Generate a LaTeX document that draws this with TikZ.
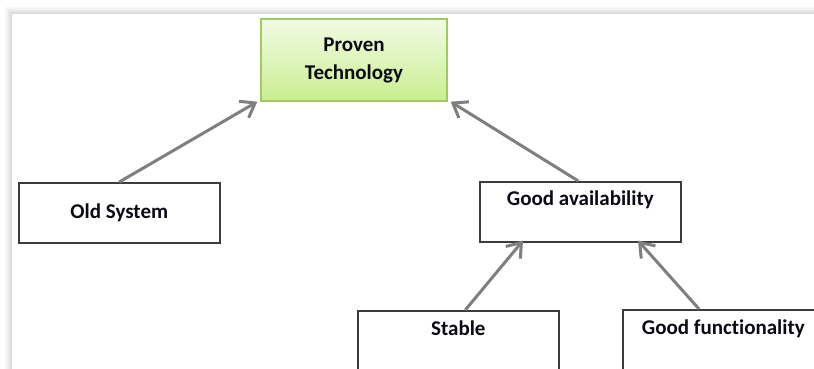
\documentclass[tikz,border=0pt]{standalone}
\usepackage{fontspec}
\setmainfont{Carlito}[Ligatures=NoCommon]
\usetikzlibrary{arrows.meta,calc}
\definecolor{arrowgray}{HTML}{7F7F7F}
\definecolor{boxline}{HTML}{3C3C3C}
\definecolor{greentop}{HTML}{F2FBE4}
\definecolor{greenbot}{HTML}{C9EE90}
\definecolor{greenline}{HTML}{9FCB60}
\definecolor{textcol}{HTML}{0A0A14}
\tikzset{
  box/.style={draw=boxline, line width=1.6pt, fill=white, inner sep=0pt, text=textcol,
    minimum width=201pt, font=\fontsize{21}{24}\selectfont\bfseries},
  greenbox/.style={draw=greenline, line width=1.4pt, top color=greentop, bottom color=greenbot,
    inner sep=0pt, minimum width=186pt, minimum height=82pt, align=center, text=textcol,
    font=\fontsize{21}{28}\selectfont\bfseries},
  link/.style={draw=arrowgray, line width=3pt, -{Straight Barb[length=13pt,width=19pt,line width=3pt]}}
}
\begin{document}
\begin{tikzpicture}[x=1pt,y=-1pt]
\useasboundingbox (0,0) rectangle (814,369);
\clip (0,0) rectangle (814,369);
% page background and soft shadow
\fill[white] (0,0) rectangle (814,369);
\foreach \i/\c in {7/3,6/4,5/6,4/8,3/10,2/12,1/15}{
  \fill[black!\c] (12-\i,14-\i) rectangle (830,380);
}
\fill[white] (12,14) rectangle (830,380);
% nodes
\node[greenbox] (pt) at (354,60) {Proven\\Technology};
\node[box, anchor=north west, text height=36pt, text depth=24pt] (os) at (18,182) {Old System};
\node[box, anchor=north west, text height=24pt, text depth=36pt] (ga) at (479,181) {Good availability};
\node[box, anchor=north west, text height=25pt, text depth=50pt] (st) at (357,310) {Stable};
\node[box, anchor=north west, minimum width=201pt, text height=25pt, text depth=50pt] (gf) at (622,309) {Good functionality};
% connectors
\draw[link] (os.north) -- ([shift={(-3,0)}]pt.south west);
\draw[link] ([xshift=-2pt]ga.north) -- ([shift={(3,0)}]pt.south east);
\draw[link] ([xshift=7pt]st.north) -- ([shift={(44,-2)}]ga.south west);
\draw[link] ([xshift=77pt]gf.north west) -- ([shift={(159,-2)}]ga.south west);
\end{tikzpicture}
\end{document}
